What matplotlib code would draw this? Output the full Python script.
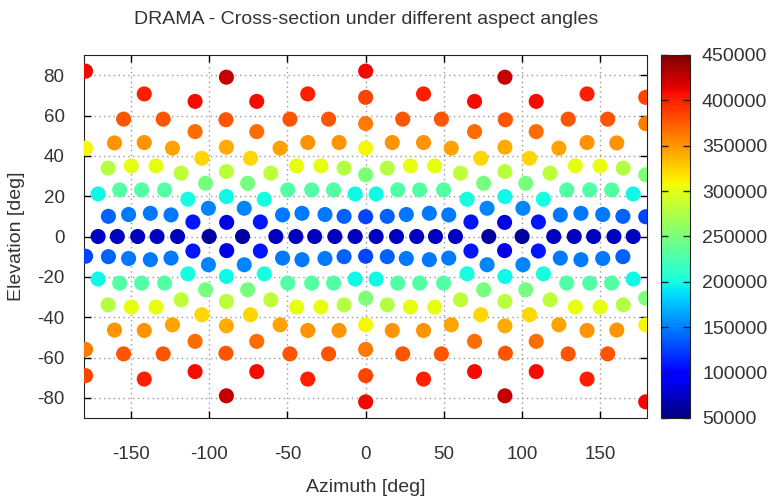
import numpy as np
import matplotlib
matplotlib.use("Agg")
import matplotlib.pyplot as plt

plt.rcParams['font.family'] = ['Liberation Sans', 'DejaVu Sans']
plt.rcParams['axes.unicode_minus'] = False

# ── Dados: hemisfério norte (elevação > 0) ───────────────────
az_n = [
    -179, 0,
    -89, 89,
    -141.5, -37, 37, 141.5,
    -109, -69.6, 69.6, 109,
    0, 179,
    -154.7, -129.4, -89.3, -48.4, -23.7, 23.7, 48.4, 89.3, 129.4, 154.7,
    0, 179,
    -109, -69.6, 69.6, 109,
    -160.5, -141.5, -37, -17, 17, 37, 141.5, 160.5,
    -123.5, -54.7, 54.7, 123.5,
    -89, 89,
    -179, 0,
    -104.7, -73.6, 73.6, 104.7,
    -149.8, -134, -44.1, -28.6, 28.6, 44.1, 134, 149.8,
    -164.6, -13.8, 13.8, 164.6,
    -117.9, -60.6, 60.6, 117.9,
    -89, 89,
    0, 179,
    -102.3, -75.4, 75.4, 102.3,
    -157.2, -143.2, -128.5, -49.8, -34.5, -20.5, 20.5, 34.5, 49.8, 128.5, 143.2, 157.2,
    -171, -6.7, 6.7, 171,
    -113.6, -64.8, 64.8, 113.6,
    -89, 89,
    -151.5, -137.6, -124.4, -53.1, -40.7, -26, 26, 40.7, 53.1, 124.4, 137.6, 151.5,
    -164.4, -13.8, 13.8, 164.4,
    0, 179,
    -100.5, -77.6, 77.6, 100.5,
    -110.4, -67.3, 67.3, 110.4,
    -88.8, 88.8,
]
el_n = [
    82, 82,
    79, 79,
    70.7, 70.7, 70.7, 70.7,
    67, 67, 67, 67,
    69, 69,
    58.2, 58.2, 57.9, 58.2, 58.2, 58.2, 58.2, 57.9, 58.2, 58.2,
    56, 56,
    52, 52, 52, 52,
    46.4, 46.6, 46.6, 46.6, 46.6, 46.6, 46.6, 46.4,
    43.8, 43.8, 43.8, 43.8,
    44.3, 44.3,
    43.8, 43.8,
    38.8, 38.8, 38.8, 38.8,
    35, 35, 35, 35, 35, 35, 35, 35,
    33.9, 33.9, 33.9, 33.9,
    31.4, 31.4, 31.4, 31.4,
    32.2, 32.2,
    30.6, 30.6,
    26.4, 26.4, 26.4, 26.4,
    23.1, 23.1, 23.1, 23.1, 23.1, 23.1, 23.1, 23.1, 23.1, 23.1, 23.1, 23.1,
    21.1, 21.1, 21.1, 21.1,
    18.5, 18.5, 18.5, 18.5,
    19.8, 19.8,
    10.9, 11.5, 10.7, 10.7, 11.5, 10.9, 10.9, 11.5, 10.7, 10.7, 11.5, 10.9,
    10, 10, 10, 10,
    9.8, 9.8,
    14, 14, 14, 14,
    7.2, 7.2, 7.2, 7.2,
    7, 7,
]
rcs_n = [
    410000, 410000,
    425000, 425000,
    400000, 400000, 400000, 400000,
    408000, 408000, 408000, 408000,
    385000, 385000,
    378000, 378000, 378000, 378000, 378000, 378000, 378000, 378000, 378000, 378000,
    362000, 362000,
    368000, 368000, 368000, 368000,
    350000, 350000, 350000, 350000, 350000, 350000, 350000, 350000,
    345000, 345000, 345000, 345000,
    342000, 342000,
    308000, 308000,
    322000, 322000, 322000, 322000,
    303000, 303000, 303000, 303000, 303000, 303000, 303000, 303000,
    278000, 278000, 278000, 278000,
    282000, 282000, 282000, 282000,
    280000, 280000,
    250000, 250000,
    248000, 248000, 248000, 248000,
    230000, 230000, 230000, 230000, 230000, 230000, 230000, 230000, 230000, 230000, 230000, 230000,
    198000, 198000, 198000, 198000,
    200000, 200000, 200000, 200000,
    198000, 198000,
    148000, 148000, 148000, 148000, 148000, 148000, 148000, 148000, 148000, 148000, 148000, 148000,
    138000, 138000, 138000, 138000,
    128000, 128000,
    152000, 152000, 152000, 152000,
    108000, 108000, 108000, 108000,
    85000, 85000,
]

# ── Dados: equador (elevação = 0) ────────────────────────────
az_eq = [-171, -158.7, -145.7, -133.3, -120.2, -100, -78.7, -57.4, -44.6, -32.6, -19.7, -6.7,
         6.7, 19.7, 32.6, 44.6, 57.4, 78.7, 100, 120.2, 133.3, 145.7, 158.7, 171]
el_eq = [0] * 24
rcs_eq = [72000, 72000, 72000, 72000, 72000, 62000, 62000, 72000, 72000, 72000, 72000, 72000,
          72000, 72000, 72000, 72000, 72000, 62000, 62000, 72000, 72000, 72000, 72000, 72000]

# ── Dados: hemisfério sul (elevação < 0) ─────────────────────
az_s = [
    0, 179,
    -89, 89,
    -141.5, -37, 37, 141.5,
    -109, -69.6, 69.6, 109,
    -179, 0,
    -154.7, -129.4, -89.3, -48.4, -23.7, 23.7, 48.4, 89.3, 129.4, 154.7,
    -179, 0,
    -109, -69.6, 69.6, 109,
    -160.5, -141.5, -37, -17, 17, 37, 141.5, 160.5,
    -123.5, -54.7, 54.7, 123.5,
    -89, 89,
    0, 179,
    -104.7, -73.6, 73.6, 104.7,
    -149.8, -134, -44.1, -28.6, 28.6, 44.1, 134, 149.8,
    -164.6, -13.8, 13.8, 164.6,
    -117.9, -60.6, 60.6, 117.9,
    -89, 89,
    0, 179,
    -102.3, -75.4, 75.4, 102.3,
    -157.2, -143.2, -128.5, -49.8, -34.5, -20.5, 20.5, 34.5, 49.8, 128.5, 143.2, 157.2,
    -171, -6.7, 6.7, 171,
    -113.6, -64.8, 64.8, 113.6,
    -89, 89,
    -151.5, -137.6, -124.4, -53.1, -40.7, -26, 26, 40.7, 53.1, 124.4, 137.6, 151.5,
    -164.4, -13.8, 13.8, 164.4,
    -179, 0,
    -100.5, -77.6, 77.6, 100.5,
    -110.4, -67.3, 67.3, 110.4,
    -88.8, 88.8,
]
el_s = [
    -82, -82,
    -79, -79,
    -70.7, -70.7, -70.7, -70.7,
    -67, -67, -67, -67,
    -69, -69,
    -58.2, -58.2, -57.9, -58.2, -58.2, -58.2, -58.2, -57.9, -58.2, -58.2,
    -56, -56,
    -52, -52, -52, -52,
    -46.4, -46.6, -46.6, -46.6, -46.6, -46.6, -46.6, -46.4,
    -43.8, -43.8, -43.8, -43.8,
    -44.3, -44.3,
    -43.8, -43.8,
    -38.8, -38.8, -38.8, -38.8,
    -35, -35, -35, -35, -35, -35, -35, -35,
    -33.9, -33.9, -33.9, -33.9,
    -31.4, -31.4, -31.4, -31.4,
    -32.2, -32.2,
    -30.6, -30.6,
    -26.4, -26.4, -26.4, -26.4,
    -23.1, -23.1, -23.1, -23.1, -23.1, -23.1, -23.1, -23.1, -23.1, -23.1, -23.1, -23.1,
    -21.1, -21.1, -21.1, -21.1,
    -18.5, -18.5, -18.5, -18.5,
    -19.8, -19.8,
    -10.9, -11.5, -10.7, -10.7, -11.5, -10.9, -10.9, -11.5, -10.7, -10.7, -11.5, -10.9,
    -10, -10, -10, -10,
    -9.8, -9.8,
    -14, -14, -14, -14,
    -7.2, -7.2, -7.2, -7.2,
    -7, -7,
]
rcs_s = list(rcs_n)

AZ = np.array(az_n + az_eq + az_s)
EL = np.array(el_n + el_eq + el_s)
RCS = np.array(rcs_n + rcs_eq + rcs_s)

TEXT = "#333333"

# ── Figura ────────────────────────────────────────────────────
fig = plt.figure(figsize=(7.71, 5.0), dpi=100)
ax = fig.add_axes([84 / 771, 1 - 418 / 500, 563.3 / 771, 363 / 500])
cax = fig.add_axes([661 / 771, 1 - 418 / 500, 28.5 / 771, 363 / 500])

sc = ax.scatter(AZ, EL, c=RCS, cmap="jet", vmin=50000, vmax=450000,
                s=118, marker="o", linewidths=0, zorder=3)

ax.set_xlim(-180, 180)
ax.set_ylim(-90, 90)
ax.set_xticks(np.arange(-150, 151, 50))
ax.set_yticks(np.arange(-80, 81, 20))
ax.grid(True, linestyle=(0, (1, 2.5)), color="#999999", linewidth=1.0, zorder=0)
ax.tick_params(direction="in", top=True, right=True, length=5, width=1,
               labelsize=13.5, labelcolor=TEXT, pad=14)
ax.tick_params(axis="x", pad=20)
for sp in ax.spines.values():
    sp.set_color("#222222")

ax.set_xlabel("Azimuth [deg]", fontsize=14, color=TEXT, va="center")
ax.xaxis.set_label_coords(0.5, (418 - 488) / 363)
ax.set_ylabel("Elevation [deg]", fontsize=14, color=TEXT, va="center")
ax.yaxis.set_label_coords((17 - 84) / 563.3, 0.5)

fig.text(366 / 771, 1 - 20 / 500, "DRAMA - Cross-section under different aspect angles",
         ha="center", va="center", fontsize=14, color=TEXT)

cb = fig.colorbar(sc, cax=cax)
cb.set_ticks(np.arange(50000, 450001, 50000))
cb.outline.set_edgecolor("#222222")
cax.tick_params(direction="in", left=True, right=True, length=5, width=1,
                color="#222222", labelsize=14, labelcolor=TEXT, pad=9)

plt.savefig("out.png", dpi=100)
